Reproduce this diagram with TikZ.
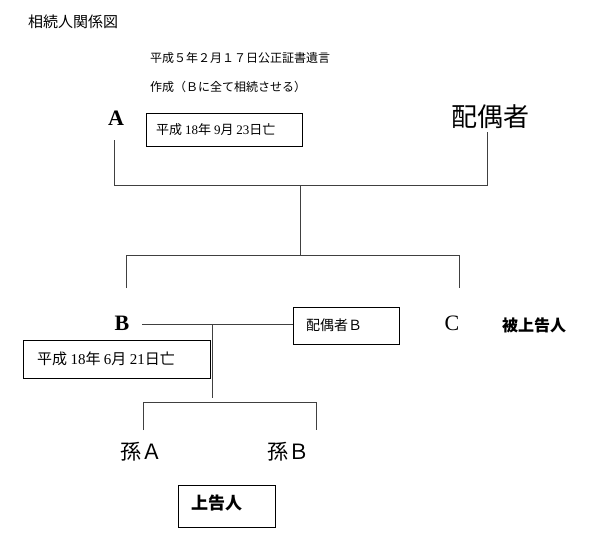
\documentclass[tikz,border=0pt]{standalone}
\usepackage{fontspec}
\setmainfont{Liberation Serif}
\newfontfamily\jp{Noto Sans CJK JP}
\begin{document}
\begin{tikzpicture}[x=1pt,y=-1pt,
  ln/.style={draw=black!75,line width=0.9pt},
  bx/.style={draw,line width=0.8pt,anchor=north west,inner sep=0pt},
  jt/.style={font=\jp\fontsize{12}{14}\selectfont,inner sep=0pt},
  big/.style={font=\bfseries\fontsize{22}{24}\selectfont,inner sep=0pt}]
\useasboundingbox (0,0) rectangle (600,543);
\node[jt,anchor=west,font=\jp\fontsize{15}{17}\selectfont] (title) at (28,22) {相続人関係図};
\node[jt,anchor=west] (n1) at (150,58) {平成５年２月１７日公正証書遺言};
\node[jt,anchor=west] (n2) at (150,87) {作成（Ｂに全て相続させる）};
\node[big] (A) at (116,118) {A};
\node[bx,minimum width=156pt,minimum height=33pt] (dA) at (146,113) {};
\node[jt,anchor=west,font=\jp\fontsize{13}{15}\selectfont] at (156,129.5) {平成 \rmfamily 18\jp 年 \rmfamily 9\jp 月 \rmfamily 23\jp 日亡};
\node[font=\jp\fontsize{26}{28}\selectfont,inner sep=0pt] (S) at (490,117) {配偶者};
\coordinate (a1) at (114,140); \coordinate (a2) at (114,185);
\coordinate (s1) at (487,132); \coordinate (s2) at (487,185);
\coordinate (m1) at (300,185); \coordinate (m2) at (300,255);
\coordinate (k1) at (126,255); \coordinate (k2) at (459,255);
\coordinate (k1d) at (126,288); \coordinate (k2d) at (459,288);
\draw[ln] (a1)--(a2)--(s2)--(s1);
\draw[ln] (m1)--(m2);
\draw[ln] (k1d)--(k1)--(k2)--(k2d);
\node[big] (B) at (122,323) {B};
\node[bx,minimum width=106pt,minimum height=37pt] (sB) at (293,307) {};
\node[jt,anchor=west,font=\jp\fontsize{14}{16}\selectfont] at (306,325.5) {配偶者Ｂ};
\node[font=\fontsize{22}{24}\selectfont,inner sep=0pt] (C) at (452,323) {C};
\node[jt,font=\jp\bfseries\fontsize{16}{18}\selectfont] (hj) at (534,325) {被上告人};
\draw[ln] (142,324) coordinate (b1) -- (sB.west |- b1);
\coordinate (v1) at (212,324); \coordinate (v2) at (212,398);
\draw[ln] (v1)--(v2);
\node[bx,minimum width=187pt,minimum height=38pt,fill=white] (dB) at (23,340) {};
\node[jt,anchor=west,font=\jp\fontsize{15}{17}\selectfont] at (37,359) {平成 \rmfamily 18\jp 年 \rmfamily 6\jp 月 \rmfamily 21\jp 日亡};
\coordinate (g1) at (143,430); \coordinate (g2) at (143,402);
\coordinate (g3) at (316,402); \coordinate (g4) at (316,430);
\draw[ln] (g1)--(g2)--(g3)--(g4);
\node[font=\jp\fontsize{21}{23}\selectfont,inner sep=0pt] (gA) at (141,452) {孫Ａ};
\node[font=\jp\fontsize{21}{23}\selectfont,inner sep=0pt] (gB) at (288,452) {孫Ｂ};
\node[bx,minimum width=97pt,minimum height=42pt] (jk) at (178,485) {};
\node[jt,anchor=west,font=\jp\bfseries\fontsize{17}{19}\selectfont] at (191,503) {上告人};
\end{tikzpicture}
\end{document}
